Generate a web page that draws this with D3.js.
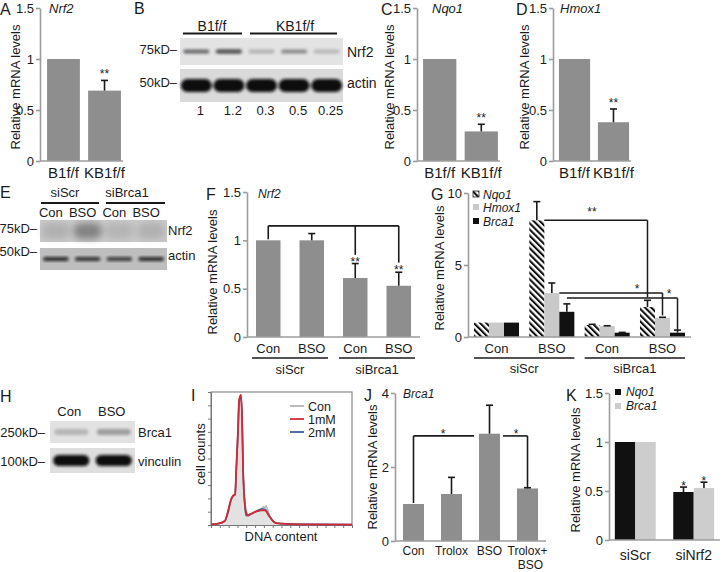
<!DOCTYPE html>
<html>
<head>
<meta charset="utf-8">
<script src="https://cdn.jsdelivr.net/npm/d3@7"></script>
<style>
body { margin: 0; background: #fff; }
svg { font-family: Arial, "Liberation Sans", sans-serif; }
.axis path, .axis line { stroke: #9c9c9c; stroke-width: 1.6; }
.axis text { fill: #1b1b1b; }
</style>
</head>
<body>
<svg id="fig" width="723" height="572"></svg>
<script>
// ---- data ----
const koGroups = ["B1f/f", "KB1f/f"];
const nrf2Ko = [1, 0.69], nrf2KoErr = [0, 0.10];
const nqo1Ko = [1, 0.29], nqo1KoErr = [0, 0.07];
const hmox1Ko = [1, 0.38], hmox1KoErr = [0, 0.13];

const bLaneLabels = ["1", "1.2", "0.3", "0.5", "0.25"];
const bNrf2Band = [0.55, 0.75, 0.22, 0.4, 0.2];
const bActinBand = [1, 1, 1, 1, 1];

const eLanes = ["Con", "BSO", "Con", "BSO"];
const eNrf2Smear = [0.12, 0.35, 0.1, 0.12];
const eActinBand = [0.85, 0.8, 0.75, 0.85];

const fTreat = ["Con", "BSO", "Con", "BSO"];
const fGroups = ["siScr", "siBrca1"];
const fValues = [1, 1, 0.61, 0.53];
const fErr = [0, 0.07, 0.15, 0.14];

const gTreat = ["Con", "BSO", "Con", "BSO"];
const gGroups = ["siScr", "siBrca1"];
const gGenes = ["Nqo1", "Hmox1", "Brca1"];
const gNqo1 = [1, 8.1, 0.83, 2.08], gNqo1Err = [0, 1.3, 0.05, 0.47];
const gHmox1 = [1, 3.05, 0.76, 1.34], gHmox1Err = [0, 0.7, 0.02, 0.03];
const gBrca1 = [1, 1.75, 0.3, 0.3], gBrca1Err = [0, 0.55, 0.02, 0.18];

const hLanes = ["Con", "BSO"];
const hBrca1Band = [0.2, 0.3];
const hVinculinBand = [1, 1];

const dnaChannel = [0, 50, 100, 125, 145, 160, 175, 183, 196, 204, 218, 226, 233, 247, 255, 270, 285, 305, 325, 345, 365, 380, 392, 400, 410, 428, 450, 472, 515, 650, 1024];
const countsCon = [0.5, 1, 3, 9, 18, 21, 23, 38, 68, 90, 95, 80, 45, 14, 9, 8, 8.5, 9.5, 10.5, 11.5, 12, 14, 13, 14.5, 12, 6, 3, 1.5, 1, 0.6, 0.3];
const counts1mM = [0.5, 1, 3, 11, 19, 22, 23, 41, 71, 94, 98, 79, 41, 15, 10, 7, 8, 9, 10, 10.5, 11, 11, 11, 10.5, 9, 6, 3, 1.5, 1, 0.5, 0.3];
const counts2mM = [0.5, 1, 3, 10, 19, 22, 23, 40, 70, 92, 97, 80, 43, 13, 7, 7.5, 8, 9, 10, 11, 12, 12, 11.5, 11, 9, 6, 3, 1.5, 1, 0.5, 0.3];
const iLegend = ["Con", "1mM", "2mM"];

const jTreat = ["Con", "Trolox", "BSO", "Trolox+ BSO"];
const jValues = [1, 1.27, 2.9, 1.42];
const jErr = [0, 0.45, 0.77, 0.02];

const kGroups = ["siScr", "siNrf2"];
const kGenes = ["Nqo1", "Brca1"];
const kNqo1 = [1, 0.49], kNqo1Err = [0, 0.05];
const kBrca1 = [1, 0.53], kBrca1Err = [0, 0.06];

// ---- helpers ----
const GRAY = "#8e8e8e", LIGHT = "#c9c9c9", DARK = "#111", AX = "#9c9c9c", INK = "#1b1b1b";
const svg = d3.select("#fig");
const defs = svg.append("defs");
defs.append("filter").attr("id", "blur").attr("x", "-50%").attr("y", "-50%").attr("width", "200%").attr("height", "200%")
  .append("feGaussianBlur").attr("stdDeviation", 1.6);
defs.append("filter").attr("id", "blur2").attr("x", "-50%").attr("y", "-50%").attr("width", "200%").attr("height", "200%")
  .append("feGaussianBlur").attr("stdDeviation", 3.5);
const hatch = defs.append("pattern").attr("id", "hatch").attr("patternUnits", "userSpaceOnUse")
  .attr("width", 4.4).attr("height", 4.4).attr("patternTransform", "rotate(-45)");
hatch.append("rect").attr("width", 4.4).attr("height", 4.4).attr("fill", "#fff");
hatch.append("rect").attr("width", 2.1).attr("height", 4.4).attr("fill", "#111");

function label(x, y, t, size, opt) {
  opt = opt || {};
  return svg.append("text").attr("x", x).attr("y", y)
    .attr("text-anchor", opt.anchor || "start")
    .style("font-size", size + "px")
    .style("font-style", opt.italic ? "italic" : "normal")
    .attr("fill", INK).text(t);
}
function yTitle(x, yc, t, size) {
  svg.append("text").attr("transform", `translate(${x},${yc}) rotate(-90)`)
    .attr("text-anchor", "middle").attr("dy", "0.35em")
    .style("font-size", size + "px").attr("fill", INK).text(t);
}
function yAxis(x0, y, ticks, size) {
  const g = svg.append("g").attr("class", "axis").attr("transform", `translate(${x0},0)`)
    .call(d3.axisLeft(y).tickValues(ticks).tickFormat(d => d).tickSize(4).tickSizeOuter(0).tickPadding(2));
  g.selectAll("text").style("font-size", (size || 13) + "px");
}
function baseline(x0, x1, y) {
  svg.append("line").attr("x1", x0).attr("x2", x1).attr("y1", y(0)).attr("y2", y(0))
    .attr("stroke", AX).attr("stroke-width", 1.6);
}
function seg(x1, y1, x2, y2, w) {
  return svg.append("line").attr("x1", x1).attr("y1", y1).attr("x2", x2).attr("y2", y2)
    .attr("stroke", "#1a1a1a").attr("stroke-width", w || 1.5);
}
function errBar(xc, v, e, y) {
  if (!e) return;
  seg(xc, y(v), xc, y(v + e), 1.6);
  seg(xc - 3.5, y(v + e), xc + 3.5, y(v + e), 1.6);
}
function stars(xc, yb, t) {
  label(xc, yb, t, 12, { anchor: "middle" });
}
function bars(cats, vals, x, y, fill) {
  svg.append("g").selectAll("rect").data(cats).join("rect")
    .attr("x", d => x(d)).attr("width", x.bandwidth())
    .attr("y", (d, i) => y(vals[i])).attr("height", (d, i) => y(0) - y(vals[i]))
    .attr("fill", fill);
}
// western blot strip: bands drawn as blurred rounded rects
function blot(x0, y0, w, h, bg, n, bands, bh, bwFrac, blurId) {
  const lane = d3.scaleBand().domain(d3.range(n)).range([x0, x0 + w]);
  svg.append("rect").attr("x", x0).attr("y", y0).attr("width", w).attr("height", h).attr("fill", bg);
  svg.append("g").attr("filter", `url(#${blurId || "blur"})`).selectAll("rect").data(bands).join("rect")
    .attr("x", (d, i) => lane(i) + lane.bandwidth() * (1 - bwFrac) / 2)
    .attr("width", lane.bandwidth() * bwFrac)
    .attr("y", y0 + h / 2 - bh / 2).attr("height", bh).attr("rx", bh / 2)
    .attr("fill", "#0b0b0b").attr("opacity", d => d);
  return lane;
}

// ---- A / C / D : simple two-bar panels ----
function koPanel(letter, lx, axX, xr, gene, genX, vals, errs, titleX) {
  const y = d3.scaleLinear().domain([0, 1.5]).range([161, 8]);
  const x = d3.scaleBand().domain(koGroups).range(xr).paddingInner(0.2).paddingOuter(0.05);
  label(lx, 14.5, letter, 16);
  label(genX, 12.5, gene, 13, { italic: true });
  yAxis(axX, y, [0, 0.5, 1, 1.5], 13);
  bars(koGroups, vals, x, y, GRAY);
  baseline(axX, xr[1], y);
  koGroups.forEach((d, i) => {
    errBar(x(d) + x.bandwidth() / 2, vals[i], errs[i], y);
    label(x(d) + x.bandwidth() / 2, 178, d, 15, { anchor: "middle" });
  });
  stars(x(koGroups[1]) + x.bandwidth() / 2, y(vals[1] + errs[1]) - 2, "**");
  yTitle(titleX, 87, "Relative mRNA levels", 13);
}
koPanel("A", 0, 40, [45, 123], "Nrf2", 49, nrf2Ko, nrf2KoErr, 15);
koPanel("C", 381, 417, [421, 500], "Nqo1", 432, nqo1Ko, nqo1KoErr, 389);
koPanel("D", 516, 553, [557, 631], "Hmox1", 560, hmox1Ko, hmox1KoErr, 524);

// ---- B : western blot ----
label(134, 14, "B", 16);
const bLane = blot(180, 38, 163, 27, "#e3e3e3", 5, bNrf2Band, 4, 0.8);
blot(180, 69, 163, 33, "#dadada", 5, bActinBand, 13, 0.95);
label(212, 31, "B1f/f", 14, { anchor: "middle" });
label(295, 31, "KB1f/f", 14, { anchor: "middle" });
seg(183, 33.5, 242, 33.5, 1.8);
seg(250, 33.5, 337, 33.5, 1.8);
label(177, 54, "75kD\u2013", 13, { anchor: "end" });
label(177, 87, "50kD\u2013", 13, { anchor: "end" });
label(347, 57, "Nrf2", 14);
label(347, 88, "actin", 14);
bLaneLabels.forEach((t, i) => label(bLane(i) + bLane.bandwidth() / 2 + 4, 115, t, 13, { anchor: "middle" }));

// ---- E : western blot ----
label(0, 198, "E", 16);
label(65, 197, "siScr", 13, { anchor: "middle" });
label(127, 197, "siBrca1", 13, { anchor: "middle" });
seg(41, 203, 99, 203, 1.8);
seg(106, 203, 165, 203, 1.8);
const eLane = blot(40, 220, 127, 22, "#c9c9c9", 4, eNrf2Smear, 16, 0.9, "blur2");
blot(40, 248, 127, 22, "#bebebe", 4, eActinBand, 4, 0.8);
eLanes.forEach((t, i) => label(eLane(i) + eLane.bandwidth() / 2 - 5, 217, t, 13, { anchor: "middle" }));
label(37, 233, "75kD\u2013", 13, { anchor: "end" });
label(37, 256, "50kD\u2013", 13, { anchor: "end" });
label(168, 235, "Nrf2", 13);
label(168, 260, "actin", 13);

// ---- F : Nrf2 after BSO ----
const yF = d3.scaleLinear().domain([0, 1.5]).range([337, 192]);
const fIdx = d3.range(fTreat.length);
const xF = d3.scaleBand().domain(fIdx).range([247, 420]).paddingInner(0.437).paddingOuter(0.207);
const fc = i => xF(i) + xF.bandwidth() / 2;
label(206, 200, "F", 16);
label(258, 198, "Nrf2", 12, { italic: true });
yAxis(247, yF, [0, 0.5, 1, 1.5], 13);
bars(fIdx, fValues, xF, yF, GRAY);
baseline(247, 420, yF);
fIdx.forEach(i => {
  errBar(fc(i), fValues[i], fErr[i], yF);
  label(fc(i), 353, fTreat[i], 13, { anchor: "middle" });
});
fGroups.forEach((gname, k) => {
  const a = xF(2 * k) - 4, b = xF(2 * k + 1) + xF.bandwidth() + 4;
  seg(a, 358, b, 358, 1.5);
  label((a + b) / 2, 374, gname, 13, { anchor: "middle" });
});
// brackets to siBrca1 bars
const fLevel = 1.15;
seg(fc(0), yF(1) - 1, fc(0), yF(fLevel), 1.6);
seg(fc(0), yF(fLevel), fc(3), yF(fLevel), 1.6);
seg(fc(2), yF(fLevel), fc(2), yF(0.85), 1.6);
seg(fc(3), yF(fLevel), fc(3), yF(0.77), 1.6);
stars(fc(2), yF(0.76) + 2, "**");
stars(fc(3), yF(0.67) + 2, "**");
yTitle(212, 272, "Relative mRNA levels", 13);

// ---- G : grouped target genes ----
const yG = d3.scaleLinear().domain([0, 10]).range([337, 193]);
const gIdx = d3.range(gTreat.length);
const xG = d3.scaleBand().domain(gIdx).range([468, 691]).paddingInner(0.186).paddingOuter(0.108);
const xGi = d3.scaleBand().domain(gGenes).range([0, xG.bandwidth()]);
const gSeries = [
  { gene: "Nqo1", vals: gNqo1, errs: gNqo1Err, fill: "url(#hatch)" },
  { gene: "Hmox1", vals: gHmox1, errs: gHmox1Err, fill: LIGHT },
  { gene: "Brca1", vals: gBrca1, errs: gBrca1Err, fill: DARK }
];
const gx = (i, gene) => xG(i) + xGi(gene);
const gc = (i, gene) => gx(i, gene) + xGi.bandwidth() / 2;
label(431, 200, "G", 16);
yAxis(468, yG, [0, 5, 10], 13);
gSeries.forEach(s => {
  svg.append("g").selectAll("rect").data(gIdx).join("rect")
    .attr("x", i => gx(i, s.gene)).attr("width", xGi.bandwidth())
    .attr("y", i => yG(s.vals[i])).attr("height", i => yG(0) - yG(s.vals[i]))
    .attr("fill", s.fill);
  gIdx.forEach(i => errBar(gc(i, s.gene), s.vals[i], s.errs[i], yG));
});
baseline(468, 691, yG);
gIdx.forEach(i => label(xG(i) + xG.bandwidth() / 2, 353, gTreat[i], 13, { anchor: "middle" }));
gGroups.forEach((gname, k) => {
  const a = xG(2 * k), b = xG(2 * k + 1) + xG.bandwidth();
  seg(a, 358, b, 358, 1.5);
  label((a + b) / 2, 373, gname, 13, { anchor: "middle" });
});
// significance brackets
const gb1 = gx(1, "Nqo1") + xGi.bandwidth();
seg(gb1, yG(8.1), gc(3, "Nqo1"), yG(8.1));
seg(gc(3, "Nqo1"), yG(8.1), gc(3, "Nqo1"), yG(2.75));
const gb2 = gx(1, "Hmox1") + xGi.bandwidth();
seg(gb2, yG(3.05), gc(3, "Hmox1"), yG(3.05));
seg(gc(3, "Hmox1"), yG(3.05), gc(3, "Hmox1"), yG(1.5));
seg(gc(1, "Brca1"), yG(2.7), gc(3, "Brca1"), yG(2.7));
seg(gc(3, "Brca1"), yG(2.7), gc(3, "Brca1"), yG(0.5));
stars(592, yG(8.5) + 1, "**");
stars(637, yG(3.1) + 1, "*");
stars(669, yG(2.75) + 1, "*");
// legend
gSeries.forEach((s, k) => {
  const yy = [194, 207, 221][k];
  svg.append("rect").attr("x", 473).attr("y", yy - 3).attr("width", 6).attr("height", 6)
    .attr("fill", s.fill).attr("stroke", k === 0 ? "#222" : "none").attr("stroke-width", 0.8);
  label(483, yy + 4.5, s.gene, 12, { italic: true });
});
yTitle(439, 268, "Relative mRNA levels", 13);

// ---- H : Brca1 blot ----
label(0, 402, "H", 16);
const hLane = blot(50, 421, 85, 22, "#e2e2e2", 2, hBrca1Band, 6, 0.8);
blot(50, 448, 85, 25, "#dedede", 2, hVinculinBand, 11, 0.85);
hLanes.forEach((t, i) => label(hLane(i) + hLane.bandwidth() / 2 - 2, 416, t, 13, { anchor: "middle" }));
label(45, 437, "250kD\u2013", 13, { anchor: "end" });
label(45, 466, "100kD\u2013", 13, { anchor: "end" });
label(138, 437, "Brca1", 13);
label(138, 466, "vinculin", 13);

// ---- I : DNA content histogram ----
const xI = d3.scaleLinear().domain([0, 1024]).range([211, 352]);
const yI = d3.scaleLinear().domain([0, 100]).range([525, 392]);
label(191, 401, "I", 16);
svg.append("rect").attr("x", 211).attr("y", 392).attr("width", 141).attr("height", 133)
  .attr("fill", "none").attr("stroke", "#8a8a8a").attr("stroke-width", 1.2);
svg.append("g").attr("class", "axis").attr("transform", "translate(0,525)")
  .call(d3.axisBottom(xI).tickValues(d3.range(0, 1025, 64)).tickFormat("").tickSize(3).tickSizeOuter(0))
  .selectAll("line,path").style("stroke", "#777").style("stroke-width", 1);
svg.append("g").attr("class", "axis").attr("transform", "translate(211,0)")
  .call(d3.axisLeft(yI).tickValues(d3.range(0, 101, 10)).tickFormat("").tickSize(3).tickSizeOuter(0))
  .selectAll("line,path").style("stroke", "#777").style("stroke-width", 1);
const area = d3.area().x((d, i) => xI(dnaChannel[i])).y0(yI(0)).y1(d => yI(d)).curve(d3.curveMonotoneX);
const line = d3.line().x((d, i) => xI(dnaChannel[i])).y(d => yI(d)).curve(d3.curveMonotoneX);
svg.append("path").attr("d", area(countsCon)).attr("fill", "#e2e2e2");
svg.append("path").attr("d", line(countsCon)).attr("fill", "none").attr("stroke", "#b4b4b4").attr("stroke-width", 1.3);
svg.append("path").attr("d", line(counts2mM)).attr("fill", "none").attr("stroke", "#3d5f99").attr("stroke-width", 1.6);
svg.append("path").attr("d", line(counts1mM)).attr("fill", "none").attr("stroke", "#d22a36").attr("stroke-width", 1.8);
const iColors = ["#b4b4b4", "#d22a36", "#3d5f99"];
iLegend.forEach((t, k) => {
  const yy = 406 + k * 13;
  seg(290, yy, 304, yy, 1.8).attr("stroke", iColors[k]);
  label(308, yy + 4.5, t, 12.5);
});
label(281, 541, "DNA content", 13, { anchor: "middle" });
yTitle(200, 454, "cell counts", 13);

// ---- J : Brca1 with Trolox ----
const yJ = d3.scaleLinear().domain([0, 4]).range([541, 393]);
const xJ = d3.scaleBand().domain(jTreat).range([395, 546]).paddingInner(0.447).paddingOuter(0.21);
const jc = d => xJ(d) + xJ.bandwidth() / 2;
label(364, 401, "J", 16);
label(403, 398, "Brca1", 12, { italic: true });
yAxis(395, yJ, [0, 2, 4], 13);
bars(jTreat, jValues, xJ, yJ, GRAY);
baseline(395, 546, yJ);
jTreat.forEach((d, i) => {
  errBar(jc(d), jValues[i], jErr[i], yJ);
  // wrapped category label, one text element with a tspan per line
  const t = label(jc(d), 555, "", 12, { anchor: "middle" });
  d.split(" ").forEach((part, r) => t.append("tspan")
    .attr("x", jc(d) + (r ? 3 : 0)).attr("dy", r ? 14 : 0).text(part));
});
const jLevel = 2.84;
seg(jc("Con"), yJ(1) - 1, jc("Con"), yJ(jLevel), 1.6);
seg(jc("Con"), yJ(jLevel), xJ("BSO") - 5, yJ(jLevel), 1.6);
seg(xJ("BSO") + xJ.bandwidth() + 3, yJ(jLevel), jc("Trolox+ BSO"), yJ(jLevel), 1.6);
seg(jc("Trolox+ BSO"), yJ(jLevel), jc("Trolox+ BSO"), yJ(1.45), 1.6);
stars(443, yJ(jLevel) + 2, "*");
stars(516, yJ(jLevel) + 2, "*");
yTitle(372, 467, "Relative mRNA levels", 13);

// ---- K : siNrf2 ----
const yK = d3.scaleLinear().domain([0, 1.5]).range([540, 393]);
const xK = d3.scaleBand().domain(kGroups).range([609, 720]).paddingInner(0.3).paddingOuter(0.1);
const xKi = d3.scaleBand().domain(kGenes).range([0, xK.bandwidth()]);
const kSeries = [
  { gene: "Nqo1", vals: kNqo1, errs: kNqo1Err, fill: DARK },
  { gene: "Brca1", vals: kBrca1, errs: kBrca1Err, fill: "#cdcdcd" }
];
label(566, 401, "K", 16);
yAxis(609, yK, [0, 0.5, 1, 1.5], 13);
kSeries.forEach((s, k) => {
  svg.append("g").selectAll("rect").data(kGroups).join("rect")
    .attr("x", d => xK(d) + xKi(s.gene)).attr("width", xKi.bandwidth())
    .attr("y", (d, i) => yK(s.vals[i])).attr("height", (d, i) => yK(0) - yK(s.vals[i]))
    .attr("fill", s.fill);
  kGroups.forEach((d, i) => {
    const xc = xK(d) + xKi(s.gene) + xKi.bandwidth() / 2;
    errBar(xc, s.vals[i], s.errs[i], yK);
    if (i === 1) stars(xc, yK(s.vals[i] + s.errs[i]) + 3, "*");
  });
  svg.append("rect").attr("x", 615).attr("y", 389 + k * 14).attr("width", 6).attr("height", 6).attr("fill", s.fill);
  label(626, 396 + k * 14, s.gene, 12, { italic: true });
});
baseline(609, 720, yK);
kGroups.forEach(d => label(xK(d) + xK.bandwidth() / 2, 560, d, 14, { anchor: "middle" }));
yTitle(575, 470, "Relative mRNA levels", 13);
</script>
</body>
</html>
